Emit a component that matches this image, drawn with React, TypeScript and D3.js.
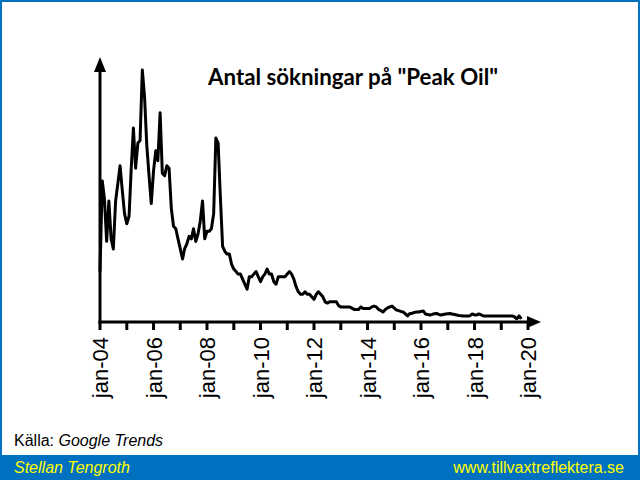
import React from "react";
import * as d3 from "d3";

const START_YEAR = 2004;
const END_YEAR = 2020;
const TITLE = 'Antal sökningar på "Peak Oil"';
const SOURCE_LABEL = "Källa: ";
const SOURCE_NAME = "Google Trends";
const AUTHOR = "Stellan Tengroth";
const SITE = "www.tillvaxtreflektera.se";

// Monthly search interest, starting January 2004
const monthlyValues: number[] = [
  20, 56, 49, 32, 48, 33, 29, 48, 55, 62, 52, 43,
  39, 42, 60, 77, 61, 71, 72, 100, 89, 70, 58, 47,
  60, 68, 64, 83, 59, 58, 62, 61, 45, 38, 37, 33,
  29, 25, 29, 31, 34, 33, 37, 32, 35, 40, 48, 33,
  36, 36, 37, 43, 73, 71, 50, 30, 28, 27, 27, 23,
  21, 20, 19, 19, 17, 15, 13, 18, 18, 19, 20, 18,
  16, 18, 19, 21, 19, 19, 16, 15, 18, 18, 18, 18,
  19, 20, 19, 17, 14, 12, 11, 11, 12, 11, 11, 10,
  9, 11, 12, 11, 10, 8, 7.5, 8, 8, 8, 8, 6.5,
  6, 6, 6, 6, 6, 5.5, 5, 5, 5, 6, 5.4, 5.4,
  5.4, 5.4, 6, 6.3, 6, 5, 4.5, 4, 5, 5.6, 6, 6.3,
  5.5, 4.7, 4.5, 4.2, 4, 3.2, 2.4, 3.4, 3.4, 3.8, 4, 4,
  4.2, 4.4, 3.2, 3, 2.8, 3, 3.3, 3.4, 3, 2.8, 3, 3.2,
  3.3, 3.4, 3.2, 3, 2.8, 2.6, 2.5, 2.4, 2.4, 2.4, 2.5, 3.2,
  2.8, 2.8, 3.2, 2.8, 2.4, 2.4, 2.4, 2.4, 2.4, 2.4, 2.4, 2.4,
  2.4, 2.4, 2.4, 2.4, 2.4, 2.4, 2.0, 1.3, 2.4, 1.2,
];

const labelYears = [2004, 2006, 2008, 2010, 2012, 2014, 2016, 2018, 2020];

const data = monthlyValues.map((v, i) => ({ date: new Date(START_YEAR, i, 1), value: v }));

export default function App() {
  const x = d3
    .scaleTime()
    .domain([new Date(START_YEAR, 0, 1), new Date(END_YEAR, 0, 1)])
    .range([100, 528]);
  const y = d3.scaleLinear().domain([0, 100]).range([322, 70]);

  const line = d3
    .line<{ date: Date; value: number }>()
    .x((d) => x(d.date))
    .y((d) => y(d.value));

  const yearTicks = d3.range(START_YEAR, END_YEAR + 1).map((yr) => new Date(yr, 0, 1));
  const fmt = (d: Date) => "jan-" + d3.timeFormat("%y")(d);
  const x0 = x(new Date(START_YEAR, 0, 1));
  const y0 = y(0);

  return (
    <svg
      width={640}
      height={480}
      style={{ position: "absolute", left: 0, top: 0, background: "#fff" }}
      fontFamily="'Liberation Sans', Arial, sans-serif"
    >
      <rect x={0} y={0} width={640} height={480} fill="#fff" />
      {/* chart line */}
      <path d={line(data) || ""} fill="none" stroke="#000" strokeWidth={3} strokeLinejoin="round" />
      {/* y axis */}
      <line x1={x0} x2={x0} y1={y0 + 1.5} y2={70} stroke="#000" strokeWidth={3} />
      <path d={`M${x0},57 L${x0 - 6},72 L${x0 + 6},72 Z`} fill="#000" />
      {/* x axis */}
      <line x1={x0 - 1.5} x2={530} y1={y0} y2={y0} stroke="#000" strokeWidth={3} />
      <path d={`M541,${y0} L527,${y0 - 6} L527,${y0 + 6} Z`} fill="#000" />
      {yearTicks.map((t, i) => (
        <line key={i} x1={x(t)} x2={x(t)} y1={y0} y2={y0 + 8} stroke="#000" strokeWidth={3} />
      ))}
      {labelYears.map((yr) => {
        const d = new Date(yr, 0, 1);
        const px = x(d) + 8;
        return (
          <text
            key={yr}
            transform={`translate(${px},337) rotate(-90)`}
            textAnchor="end"
            fontSize={22}
            fill="#000"
          >
            {fmt(d)}
          </text>
        );
      })}
      {/* title */}
      <text
        x={208}
        y={85}
        fontFamily="Lato, 'Open Sans', sans-serif"
        fontWeight={700}
        fontSize={23}
        textLength={290}
        lengthAdjust="spacingAndGlyphs"
        fill="#000"
      >
        {TITLE}
      </text>
      {/* source */}
      <text x={14} y={446} fontSize={16} fill="#000">
        {SOURCE_LABEL}
        <tspan fontStyle="italic">{SOURCE_NAME}</tspan>
      </text>
      {/* footer */}
      <rect x={0} y={455} width={640} height={25} fill="#0070C0" />
      <text x={14} y={473} fontSize={16} fontStyle="italic" fill="#FFFF00">
        {AUTHOR}
      </text>
      <text x={624} y={473} fontSize={16} textAnchor="end" fill="#FFFF00">
        {SITE}
      </text>
      <rect x={1} y={1} width={638} height={478} fill="none" stroke="#0070C0" strokeWidth={2} />
    </svg>
  );
}
